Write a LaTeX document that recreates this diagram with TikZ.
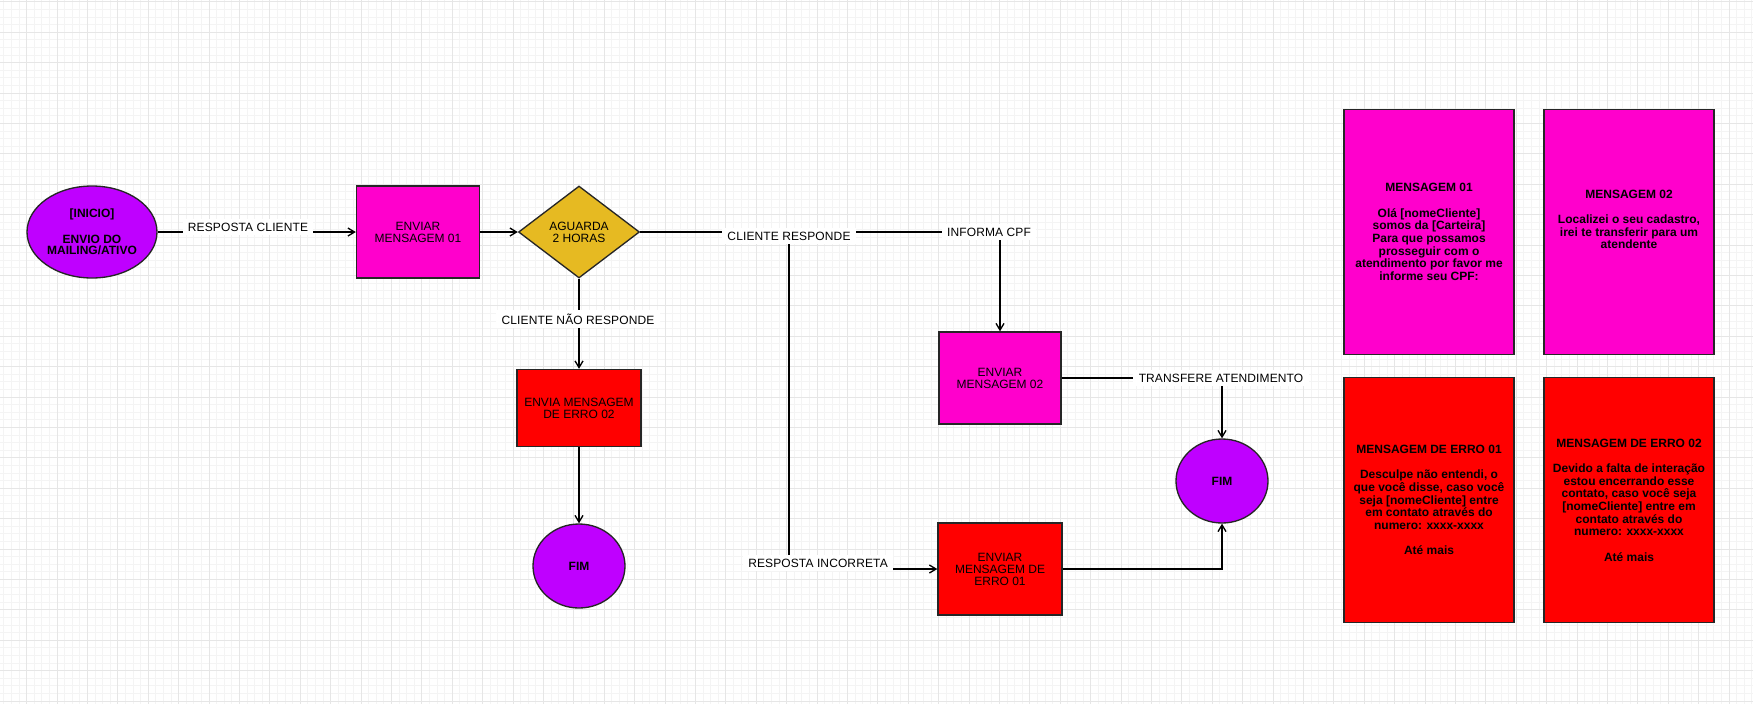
\documentclass[tikz,border=0pt]{standalone}
\usepackage{fontspec}
\setmainfont{Liberation Sans}
\newfontfamily\rotulofont[LetterSpace=1]{Liberation Sans}
\usetikzlibrary{shapes.geometric, arrows.meta, positioning}

\definecolor{roxo}{HTML}{BF00FF}
\definecolor{rosa}{HTML}{FF00CC}
\definecolor{vermelho}{HTML}{FF0000}
\definecolor{ouro}{HTML}{E6BA22}
\definecolor{grademenor}{HTML}{F4F4F4}
\definecolor{grademaior}{HTML}{E6E6E6}

\tikzset{
  bloco/.style={rectangle, draw=black!85, line width=1pt, fill=rosa, align=center, inner sep=0pt, font=\fontsize{9}{9}\selectfont},
  blocoerro/.style={bloco, fill=vermelho},
  decisao/.style={diamond, draw=black!85, line width=1pt, fill=ouro, align=center, inner sep=0pt, minimum width=90.75pt, minimum height=69pt, font=\fontsize{9}{9}\selectfont},
  terminal/.style={ellipse, draw=black!85, line width=1pt, fill=roxo, align=center, inner sep=0pt, font=\fontsize{9}{8.5}\selectfont\bfseries},
  cartao/.style={rectangle, draw=black!85, line width=1pt, align=center, inner sep=0pt, minimum width=127.5pt, minimum height=184pt, font=\fontsize{9}{9.5}\selectfont\bfseries},
  rotulo/.style={fill=white, inner xsep=4pt, inner ysep=2.5pt, font=\rotulofont\fontsize{9}{10}\selectfont},
  seta/.style={-{Straight Barb[length=5pt,width=6pt]}, line width=1pt},
}

\begin{document}
\begin{tikzpicture}[x=0.75pt, y=-0.75pt]
\useasboundingbox (0,0) rectangle (1753,704);
\fill[white] (0,0) rectangle (1753,704);
\foreach \i in {0,...,230} \draw[grademenor, line width=0.5pt] ({3.7+7.6*\i},0) -- ({3.7+7.6*\i},704);
\foreach \i in {0,...,92} \draw[grademenor, line width=0.5pt] (0,{1.8+7.6*\i}) -- (1753,{1.8+7.6*\i});
\foreach \i in {0,...,56} \draw[grademaior, line width=0.5pt] ({26.5+30.4*\i},0) -- ({26.5+30.4*\i},704);
\foreach \i in {0,...,23} \draw[grademaior, line width=0.5pt] (0,{1.8+30.4*\i}) -- (1753,{1.8+30.4*\i});

\node[terminal, minimum width=97.5pt, minimum height=69pt] (inicio) at (92,232) {[INICIO]\\[11pt]ENVIO DO\\MAILING/ATIVO};
\node[bloco, minimum width=92.25pt, minimum height=69pt] (msg01) at (418,232) {ENVIAR\\MENSAGEM 01};
\node[decisao] (aguarda) at (579,232) {AGUARDA\\2 HORAS};
\node[blocoerro, minimum width=93pt, minimum height=57.75pt] (erro02) at (579,408) {ENVIA MENSAGEM\\DE ERRO 02};
\node[terminal, minimum width=69pt, minimum height=63pt] (fim1) at (579,566) {FIM};
\node[bloco, minimum width=91.5pt, minimum height=69pt] (msg02) at (1000,378) {ENVIAR\\MENSAGEM 02};
\node[blocoerro, minimum width=93pt, minimum height=69pt] (erro01) at (1000,569) {ENVIAR\\MENSAGEM DE\\ERRO 01};
\node[terminal, minimum width=69pt, minimum height=63pt] (fim2) at (1222,481) {FIM};
\coordinate (ramo) at (789,232);

\node[cartao, fill=rosa] (cartao1) at (1429,232) {MENSAGEM 01\\[9.5pt]Olá [nomeCliente]\\somos da [Carteira]\\Para que possamos\\prosseguir com o\\atendimento por favor me\\informe seu CPF:};
\node[cartao, fill=rosa] (cartao2) at (1629,232) {MENSAGEM 02\\[9.5pt]Localizei o seu cadastro,\\irei te transferir para um\\atendente\\[9.5pt]\mbox{}};
\node[cartao, fill=vermelho] (cartao3) at (1429,500) {MENSAGEM DE ERRO 01\\[9.5pt]Desculpe não entendi, o\\que você disse, caso você\\seja [nomeCliente] entre\\em contato através do\\numero: xxxx-xxxx\\[9.5pt]Até mais};
\node[cartao, fill=vermelho] (cartao4) at (1629,500) {MENSAGEM DE ERRO 02\\[9.5pt]Devido a falta de interação\\estou encerrando esse\\contato, caso você seja\\{[nomeCliente]} entre em\\contato através do\\numero: xxxx-xxxx\\[9.5pt]Até mais};

\draw[seta] (inicio) -- (msg01);
\draw[seta] (msg01) -- (aguarda);
\draw[seta] (aguarda) -- (erro02);
\draw[seta] (erro02) -- (fim1);
\draw[seta] (aguarda.east) -| (msg02.north);
\draw[seta] (ramo) |- (erro01.west);
\draw[seta] (msg02.east) -| (fim2.north);
\draw[seta] (erro01.east) -| (fim2.south);

\node[rotulo] (lresp) at (248,227) {RESPOSTA CLIENTE};
\node[rotulo] (lresponde) at (789,236) {CLIENTE RESPONDE};
\node[rotulo] (lnao) at (578,319) {CLIENTE NÃO RESPONDE};
\node[rotulo] (lcpf) at (989,232) {INFORMA CPF};
\node[rotulo] (ltransf) at (1221,378) {TRANSFERE ATENDIMENTO};
\node[rotulo] (lincorr) at (818,563) {RESPOSTA INCORRETA};
\end{tikzpicture}
\end{document}
